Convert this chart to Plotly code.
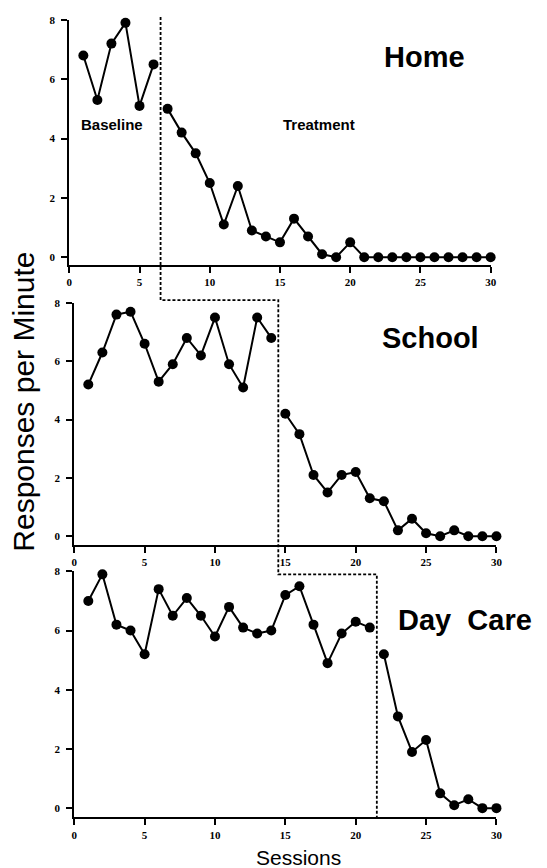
import plotly.graph_objects as go

# Sessions 1..30 and responses per minute in each setting
sessions = list(range(1, 31))

home = [6.8, 5.3, 7.2, 7.9, 5.1, 6.5,
        5.0, 4.2, 3.5, 2.5, 1.1, 2.4, 0.9, 0.7, 0.5, 1.3, 0.7, 0.1, 0.0, 0.5,
        0.0, 0.0, 0.0, 0.0, 0.0, 0.0, 0.0, 0.0, 0.0, 0.0]
school = [5.2, 6.3, 7.6, 7.7, 6.6, 5.3, 5.9, 6.8, 6.2, 7.5, 5.9, 5.1, 7.5, 6.8,
          4.2, 3.5, 2.1, 1.5, 2.1, 2.2, 1.3, 1.2, 0.2, 0.6, 0.1, 0.0, 0.2, 0.0,
          0.0, 0.0]
day_care = [7.0, 7.9, 6.2, 6.0, 5.2, 7.4, 6.5, 7.1, 6.5, 5.8, 6.8, 6.1, 5.9, 6.0,
            7.2, 7.5, 6.2, 4.9, 5.9, 6.3, 6.1,
            5.2, 3.1, 1.9, 2.3, 0.5, 0.1, 0.3, 0.0, 0.0]

# number of baseline sessions in each setting (multiple-baseline design)
baseline_len = [6, 14, 21]
setting_names = ["Home", "School", "Day\u00a0 Care"]
series = [home, school, day_care]

x_ticks = [0, 5, 10, 15, 20, 25, 30]
y_ticks = [0, 2, 4, 6, 8]

W, H = 547, 868
# panel geometry (paper fractions) and y ranges
x_domains = [[0.1232, 0.9064], [0.1324, 0.9172], [0.1324, 0.9172]]
y_domains = [[0.6993, 0.9839], [0.3748, 0.6555], [0.0588, 0.3441]]
y_ranges = [[-0.27, 8], [-0.30, 8], [-0.31, 8]]
x_range = [0, 30]

SANS = "Liberation Sans, Arial, Helvetica, sans-serif"
SERIF = "Liberation Serif, Times New Roman, serif"

fig = go.Figure()

for i, vals in enumerate(series):
    n = baseline_len[i]
    xa = "x" if i == 0 else f"x{i+1}"
    ya = "y" if i == 0 else f"y{i+1}"
    for xs, ys in ((sessions[:n], vals[:n]), (sessions[n:], vals[n:])):
        fig.add_trace(go.Scatter(
            x=xs, y=ys, mode="lines+markers", xaxis=xa, yaxis=ya,
            line=dict(color="black", width=2),
            marker=dict(color="black", size=10),
            showlegend=False, cliponaxis=False,
        ))

axis_common = dict(showgrid=False, zeroline=False, showline=True,
                   linecolor="black", linewidth=2, ticks="outside",
                   ticklen=6, tickwidth=1.5, tickcolor="black",
                   tickfont=dict(family=SERIF, size=11, color="black",
                                 weight="bold"))

layout = dict(width=W, height=H, margin=dict(l=0, r=0, t=0, b=0),
              paper_bgcolor="white", plot_bgcolor="white",
              showlegend=False)
for i in range(3):
    sx = "" if i == 0 else str(i + 1)
    layout[f"xaxis{sx}"] = dict(axis_common, domain=x_domains[i],
                                range=x_range, tickvals=x_ticks,
                                anchor=f"y{sx}")
    layout[f"yaxis{sx}"] = dict(axis_common, domain=y_domains[i],
                                range=y_ranges[i], tickvals=y_ticks,
                                anchor=f"x{sx}", ticklabelstandoff=4)
fig.update_layout(**layout)


def paper_x(i, v):
    d, r = x_domains[i], x_range
    return d[0] + (v - r[0]) / (r[1] - r[0]) * (d[1] - d[0])


def paper_y(i, v):
    d, r = y_domains[i], y_ranges[i]
    return d[0] + (v - r[0]) / (r[1] - r[0]) * (d[1] - d[0])


# staggered phase-change line running through the three panels
phase = [n + 0.5 for n in baseline_len]
step_levels = [8.1, 8.1, 7.9]   # heights (own panel units) of each step
pts = [
    (paper_x(0, phase[0]), paper_y(0, step_levels[0])),
    (paper_x(0, phase[0]), paper_y(1, step_levels[1])),
    (paper_x(1, phase[1]), paper_y(1, step_levels[1])),
    (paper_x(1, phase[1]), paper_y(2, step_levels[2])),
    (paper_x(2, phase[2]), paper_y(2, step_levels[2])),
    (paper_x(2, phase[2]), paper_y(2, y_ranges[2][0])),
]
path = "M " + " L ".join(f"{x:.5f},{y:.5f}" for x, y in pts)
fig.add_shape(type="path", path=path, xref="paper", yref="paper",
              line=dict(color="black", width=1.8, dash="3px,2px"))

# setting names
name_pos = [(25.3, 6.75), (25.3, 6.8), (27.75, 6.35)]
for i, (nm, (tx, ty)) in enumerate(zip(setting_names, name_pos)):
    sx = "" if i == 0 else str(i + 1)
    fig.add_annotation(text=f"<b>{nm}</b>", x=tx, y=ty, xref=f"x{sx}",
                       yref=f"y{sx}", showarrow=False,
                       font=dict(family=SANS, size=29, color="black"))

# phase labels in the top panel
for txt, tx in (("Baseline", 3.07), ("Treatment", 17.76)):
    fig.add_annotation(text=f"<b>{txt}</b>", x=tx, y=4.48, xref="x",
                       yref="y", showarrow=False,
                       font=dict(family=SANS, size=15, color="black"))

# shared axis titles
fig.add_annotation(text="Responses per Minute", x=2 / W, y=1 - 398 / H,
                   xref="paper", yref="paper", showarrow=False,
                   textangle=-90, font=dict(family=SANS, size=30,
                                            color="black"))
fig.add_annotation(text="Sessions", x=300 / W, y=1 - 871 / H,
                   xref="paper", yref="paper", showarrow=False,
                   font=dict(family=SANS, size=21, color="black"))

fig.write_html("out.html")
